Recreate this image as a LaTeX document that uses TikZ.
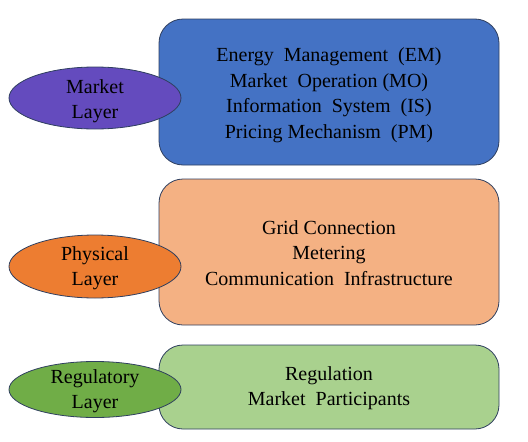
\documentclass[tikz,border=0pt]{standalone}
\usepackage{fontspec}
\setmainfont{Liberation Serif}
\newfontfamily\boxserif{Liberation Serif}
\usetikzlibrary{shapes.geometric}
\definecolor{edgec}{HTML}{2F3F5F}
\definecolor{mblue}{HTML}{4472C4}
\definecolor{mpurple}{HTML}{644BBE}
\definecolor{porange}{HTML}{ED7D31}
\definecolor{plight}{HTML}{F4B183}
\definecolor{rgreen}{HTML}{70AD47}
\definecolor{rlight}{HTML}{A9D18E}
\tikzset{
  layerbox/.style={draw=edgec, line width=0.8pt, rounded corners=24pt, minimum width=340pt, align=center, font=\boxserif\fontsize{20}{25.5}\selectfont, inner sep=0pt},
  layerell/.style={ellipse, draw=edgec, line width=0.8pt, minimum width=172pt, align=center, font=\boxserif\fontsize{20}{25}\selectfont, inner sep=0pt},
}
\begin{document}
\begin{tikzpicture}[x=1pt,y=-1pt]
\useasboundingbox (0,0) rectangle (528,442);
\node[layerbox, fill=mblue, minimum height=146pt] (mbox) at (329,92) {};
\node[align=center, font=\boxserif\fontsize{20}{25.5}\selectfont] (mtxt) at (329,95) {Energy\ \ Management\ \ (EM)\\Market\ \ Operation\ (MO)\\Information\ \ System\ \ (IS)\\Pricing\ Mechanism\ \ (PM)};
\node[layerbox, fill=plight, minimum height=146pt] (pbox) at (329,252) {};
\node[align=center, font=\boxserif\fontsize{20}{25.5}\selectfont] (ptxt) at (329,253) {Grid Connection\\Metering\\Communication\ \ Infrastructure};
\node[layerbox, fill=rlight, minimum height=84pt] (rbox) at (329,387) {};
\node[align=center, font=\boxserif\fontsize{20}{25.5}\selectfont] (rtxt) at (329,388) {Regulation\\Market\ \ Participants};
\node[layerell, fill=mpurple, minimum height=62pt] (mell) at (95,98) {};
\node[align=center, font=\boxserif\fontsize{20}{25}\selectfont] (metxt) at (95,101) {Market\\Layer};
\node[layerell, fill=porange, minimum height=63pt] (pell) at (95,266.5) {};
\node[align=center, font=\boxserif\fontsize{20}{25}\selectfont] (petxt) at (95,268) {Physical\\Layer};
\node[layerell, fill=rgreen, minimum height=56pt] (rell) at (95,389.5) {};
\node[align=center, font=\boxserif\fontsize{20}{25}\selectfont] (retxt) at (95,391) {Regulatory\\Layer};
\end{tikzpicture}
\end{document}
